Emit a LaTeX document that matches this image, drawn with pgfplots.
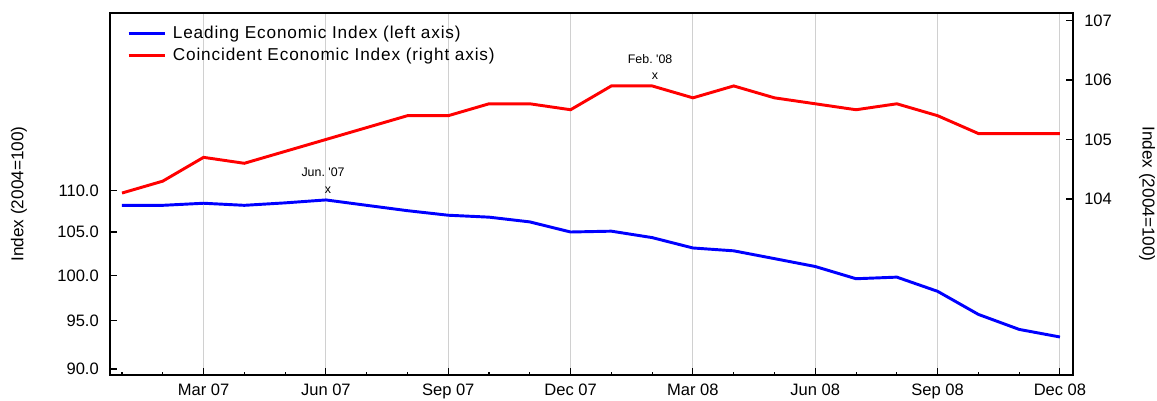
\documentclass[border=0pt]{standalone}
\usepackage{fontspec}
\setmainfont{Liberation Sans}
\usepackage{pgfplots}
\pgfplotsset{compat=1.18}
\usepackage{pgfplotstable}

\pgfplotstableread{
idx lei
0 108.2
1 108.2
2 108.45
3 108.2
4 108.5
5 108.86
6 108.2
7 107.55
8 107.0
9 106.77
10 106.2
11 105.0
12 105.1
13 104.34
14 103.13
15 102.8
16 101.9
17 101.0
18 99.62
19 99.8
20 98.22
21 95.7
22 94.1
23 93.3
}\leadtable

\pgfplotstableread{
idx cei
0 104.1
1 104.3
2 104.7
3 104.6
4 104.8
5 105.0
6 105.2
7 105.4
8 105.4
9 105.6
10 105.6
11 105.5
12 105.9
13 105.9
14 105.7
15 105.9
16 105.7
17 105.6
18 105.5
19 105.6
20 105.4
21 105.1
22 105.1
23 105.1
}\coinctable

\definecolor{gridgray}{RGB}{208,208,208}

\pgfplotsset{
  common/.style={
    scale only axis, width=722.25pt, height=271.5pt,
    at={(0,0)}, anchor=south west,
    xmin=-0.294, xmax=23.32,
    axis line style={line width=0.9pt},
    tick style={black, line width=0.8pt},
    major tick length=5pt, minor tick length=2.5pt,
    tick label style={font=\fontsize{12.4}{14}\selectfont},
    label style={font=\fontsize{12.9}{15}\selectfont},
  }
}

\begin{document}
\begin{tikzpicture}
\begin{axis}[common,
  ymode=log, ymin=89.4, ymax=134.35,
  ytick={90,95,100,105,110},
  yticklabels={90.0,95.0,100.0,105.0,110.0},
  yminorticks=false,
  ytick pos=left, xtick pos=bottom,
  xtick={2,5,8,11,14,17,20,23},
  xticklabels={Mar 07,Jun 07,Sep 07,Dec 07,Mar 08,Jun 08,Sep 08,Dec 08},
  minor xtick={0,...,23},
  xmajorgrids, major grid style={gridgray, line width=0.8pt},
  xticklabel style={yshift=-3pt},
  yticklabel style={xshift=-4.9pt},
  ylabel={Index (2004=100)},
  ylabel style={at={(axis description cs:-0.0945,0.5)}, anchor=center},
]
\addplot[blue, line width=2.2pt] table[x=idx, y=lei] {\leadtable};
\node[font=\fontsize{9.3}{11}\selectfont] at (axis cs:4.93,112.25) {Jun.\ \textquotesingle07};
\node[font=\fontsize{9.3}{11}\selectfont] at (axis cs:5.05,110.0) {x};
\end{axis}
\begin{axis}[common,
  axis x line=none, axis y line*=right,
  ymin=101.042, ymax=107.126,
  ytick={104,105,106,107},
  yticklabels={104,105,106,107},
  yticklabel style={xshift=4.9pt},
  ylabel={Index (2004=100)},
  ylabel style={at={(axis description cs:1.0769,0.5)}, anchor=center, rotate=180},
  legend style={at={(axis description cs:0,1)}, anchor=north west,
    xshift=12.75pt, yshift=-9.5pt, draw=none, fill=none, inner sep=0pt,
    font=\fontsize{12.9}{15}\selectfont\addfontfeature{LetterSpace=5},
    nodes={inner sep=0pt, text height=9.5pt, text depth=2.5pt},
    row sep=4.5pt, column sep=5pt},
  legend cell align=left,
  legend image code/.code={\draw[#1] (0pt,0pt) -- (27pt,0pt);},
]
\addlegendimage{blue, line width=2.2pt}
\addlegendentry{Leading Economic Index (left axis)}
\addplot[red, line width=2.2pt] table[x=idx, y=cei] {\coinctable};
\addlegendentry{Coincident Economic Index (right axis)}
\node[font=\fontsize{9.3}{11}\selectfont] at (axis cs:12.95,106.35) {Feb.\ \textquotesingle08};
\node[font=\fontsize{9.3}{11}\selectfont] at (axis cs:13.07,106.055) {x};
\end{axis}
\pgfresetboundingbox
\path[use as bounding box] (-82.5pt,-18.75pt) rectangle (785.25pt,281.25pt);
\end{tikzpicture}
\end{document}
